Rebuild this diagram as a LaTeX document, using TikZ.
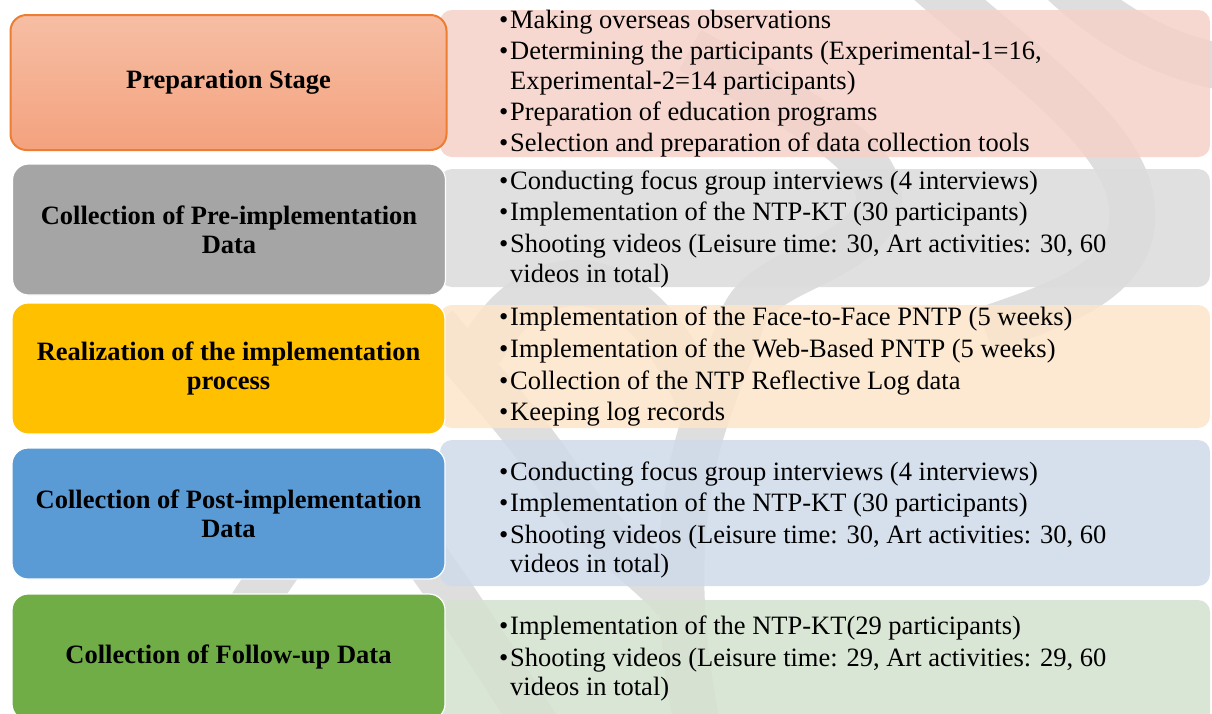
\documentclass[tikz,border=0pt]{standalone}
\usepackage{fontspec}
\setmainfont{Liberation Serif}
\definecolor{bandgray}{HTML}{DEDEDE}
\definecolor{orBorder}{HTML}{ED7D31}
\definecolor{orTop}{HTML}{F6BEA4}
\definecolor{orBot}{HTML}{F4A27E}
\definecolor{grBox}{HTML}{A5A5A5}
\definecolor{ylBox}{HTML}{FFC000}
\definecolor{blBox}{HTML}{5B9BD5}
\definecolor{gnBox}{HTML}{70AD47}
\definecolor{pkPanel}{HTML}{F5D2C9}
\definecolor{gyPanel}{HTML}{DCDCDC}
\definecolor{orPanel}{HTML}{FDE5CB}
\definecolor{blPanel}{HTML}{CFDBEA}
\definecolor{gnPanel}{HTML}{D5E2CF}
\newcommand{\bul}{\makebox[11pt][l]{\textbullet}}
\begin{document}
\begin{tikzpicture}[x=1pt,y=-1pt,
  lbox/.style={rounded corners=16pt, draw=white, line width=1.2pt, minimum width=433pt,
    align=center, font=\bfseries\fontsize{26.5}{29}\selectfont, text=black, inner sep=0pt},
  panel/.style={rounded corners=12pt, fill opacity=0.86, minimum width=770pt, inner sep=0pt, draw=none},
  itm/.style={anchor=base west, inner sep=0pt, font=\fontsize{26.5}{32}\selectfont, text=black},
  band/.style={draw=bandgray, line width=46pt}]
\useasboundingbox (0,0) rectangle (1212,713);
\fill[white] (0,0) rectangle (1212,713);

% faint background bands
\begin{scope}
\clip (0,0) rectangle (1212,713);
\draw[band] (915,-30) .. controls (1040,80) and (1150,150) .. (1130,235)
            .. controls (1115,290) and (1040,310) .. (985,330);
\draw[band] (1050,-30) .. controls (1110,30) and (1170,60) .. (1240,70);
\draw[band] (690,50) .. controls (800,110) and (900,160) .. (875,215)
            .. controls (850,265) and (760,270) .. (742,320)
            .. controls (725,370) and (700,420) .. (690,480)
            .. controls (675,560) and (680,640) .. (700,740);
\draw[band] (435,325) .. controls (480,380) and (520,420) .. (560,480)
            .. controls (600,540) and (650,570) .. (675,600);
\draw[band] (480,352) .. controls (510,300) and (545,282) .. (580,283)
            .. controls (630,285) and (680,340) .. (705,420);
\draw[band] (170,740) .. controls (220,650) and (280,560) .. (330,495);
\draw[band] (385,505) .. controls (430,560) and (470,620) .. (545,740);
\end{scope}

% right panels
\node[panel, fill=pkPanel, minimum height=147pt] (R1) at (825,83.5) {};
\node[panel, fill=gyPanel, minimum height=118pt] (R2) at (825,228) {};
\node[panel, fill=orPanel, minimum height=123pt] (R3) at (825,366.5) {};
\node[panel, fill=blPanel, minimum height=146pt] (R4) at (825,513) {};
\node[panel, fill=gnPanel, minimum height=140pt] (R5) at (825,670) {};

% left boxes
\node[lbox, draw=orBorder, line width=2pt, top color=orTop, bottom color=orBot,
      minimum width=436pt, minimum height=135pt] (L1) at (228.5,82.5) {Preparation Stage};
\node[lbox, fill=grBox, minimum height=131pt] (L2) at (229,229.5) {Collection of Pre-implementation\\Data};
\node[lbox, fill=ylBox, minimum height=131pt] (L3) at (228.5,368.5) {Realization of the implementation\\process};
\node[lbox, fill=blBox, minimum height=131pt] (L4) at (228.5,513.5) {Collection of Post-implementation\\Data};
\node[lbox, fill=gnBox, minimum height=126pt] (L5) at (228.5,657) {Collection of Follow-up Data};

% panel 1
\node[itm] (t11) at (499,28) {\bul Making overseas observations};
\node[itm] (t12) at (499,59) {\bul Determining the participants (Experimental-1=16,};
\node[itm] (t13) at (510,89) {Experimental-2=14 participants)};
\node[itm] (t14) at (499,120) {\bul Preparation of education programs};
\node[itm] (t15) at (499,151) {\bul Selection and preparation of data collection tools};
% panel 2
\node[itm] (t21) at (499,189) {\bul Conducting focus group interviews (4 interviews)};
\node[itm] (t22) at (499,220) {\bul Implementation of the NTP-KT (30 participants)};
\node[itm] (t23) at (499,252) {\bul Shooting videos (Leisure time: 30, Art activities: 30, 60};
\node[itm] (t24) at (510,282) {videos in total)};
% panel 3
\node[itm] (t31) at (499,325) {\bul Implementation of the Face-to-Face PNTP (5 weeks)};
\node[itm] (t32) at (499,357) {\bul Implementation of the Web-Based PNTP (5 weeks)};
\node[itm] (t33) at (499,389) {\bul Collection of the NTP Reflective Log data};
\node[itm] (t34) at (499,420) {\bul Keeping log records};
% panel 4
\node[itm] (t41) at (499,480) {\bul Conducting focus group interviews (4 interviews)};
\node[itm] (t42) at (499,511) {\bul Implementation of the NTP-KT (30 participants)};
\node[itm] (t43) at (499,543) {\bul Shooting videos (Leisure time: 30, Art activities: 30, 60};
\node[itm] (t44) at (510,572) {videos in total)};
% panel 5
\node[itm] (t51) at (499,634) {\bul Implementation of the NTP-KT(29 participants)};
\node[itm] (t52) at (499,666) {\bul Shooting videos (Leisure time: 29, Art activities: 29, 60};
\node[itm] (t53) at (510,695) {videos in total)};
\end{tikzpicture}
\end{document}
